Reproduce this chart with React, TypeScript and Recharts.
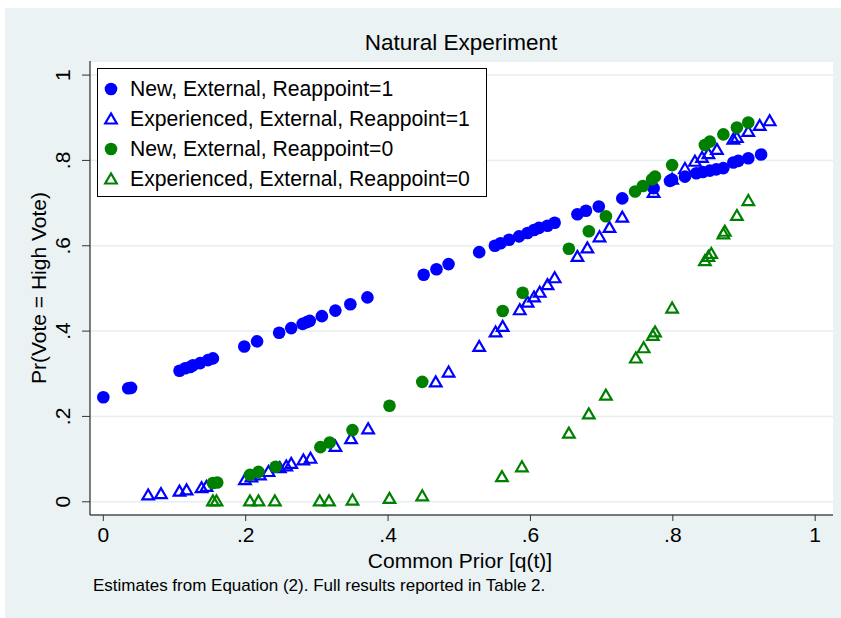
import React from 'react'
import { ScatterChart, Scatter, XAxis, YAxis, CartesianGrid, Legend } from 'recharts'

const FONT = '"Liberation Sans", Arial, Helvetica, sans-serif'
const BLUE = '#0000ff'
const GREEN = '#008000'

const xTicks = [0, 0.2, 0.4, 0.6, 0.8, 1]
const yTicks = [0, 0.2, 0.4, 0.6, 0.8, 1]

// New, External, Reappoint=1
const newReap1X = [0.000, 0.035, 0.039, 0.107, 0.115, 0.122, 0.126, 0.136, 0.147, 0.154, 0.198, 0.216, 0.247, 0.264, 0.280, 0.286, 0.290, 0.307, 0.326, 0.347, 0.371, 0.450, 0.468, 0.485, 0.528, 0.550, 0.558, 0.570, 0.584, 0.596, 0.605, 0.612, 0.624, 0.634, 0.666, 0.678, 0.696, 0.729, 0.773, 0.796, 0.799, 0.817, 0.833, 0.842, 0.852, 0.861, 0.871, 0.885, 0.892, 0.906, 0.924]
const newReap1Y = [0.245, 0.266, 0.267, 0.307, 0.313, 0.316, 0.320, 0.325, 0.332, 0.336, 0.364, 0.376, 0.396, 0.407, 0.417, 0.421, 0.424, 0.435, 0.448, 0.463, 0.479, 0.532, 0.545, 0.557, 0.585, 0.600, 0.606, 0.614, 0.622, 0.630, 0.637, 0.642, 0.647, 0.654, 0.674, 0.682, 0.692, 0.711, 0.735, 0.752, 0.755, 0.762, 0.770, 0.773, 0.776, 0.779, 0.782, 0.795, 0.799, 0.805, 0.814]

// Experienced, External, Reappoint=1
const expReap1X = [0.063, 0.081, 0.107, 0.117, 0.138, 0.145, 0.199, 0.208, 0.220, 0.232, 0.248, 0.257, 0.264, 0.281, 0.291, 0.326, 0.348, 0.372, 0.467, 0.485, 0.528, 0.551, 0.561, 0.585, 0.596, 0.605, 0.613, 0.624, 0.634, 0.666, 0.680, 0.697, 0.711, 0.729, 0.773, 0.799, 0.817, 0.831, 0.841, 0.850, 0.862, 0.885, 0.890, 0.906, 0.922, 0.936]
const expReap1Y = [0.016, 0.019, 0.025, 0.028, 0.033, 0.036, 0.052, 0.058, 0.063, 0.071, 0.080, 0.084, 0.090, 0.098, 0.102, 0.130, 0.148, 0.171, 0.281, 0.304, 0.364, 0.398, 0.411, 0.450, 0.468, 0.480, 0.491, 0.509, 0.525, 0.575, 0.595, 0.621, 0.643, 0.667, 0.725, 0.756, 0.781, 0.798, 0.807, 0.816, 0.826, 0.850, 0.854, 0.868, 0.882, 0.893]

// New, External, Reappoint=0
const newReap0X = [0.154, 0.160, 0.206, 0.218, 0.242, 0.305, 0.318, 0.350, 0.402, 0.448, 0.561, 0.589, 0.654, 0.682, 0.706, 0.747, 0.758, 0.771, 0.775, 0.799, 0.845, 0.852, 0.871, 0.890, 0.906]
const newReap0Y = [0.044, 0.045, 0.063, 0.070, 0.082, 0.128, 0.139, 0.168, 0.225, 0.281, 0.447, 0.490, 0.593, 0.634, 0.669, 0.727, 0.740, 0.756, 0.762, 0.789, 0.836, 0.844, 0.861, 0.877, 0.889]

// Experienced, External, Reappoint=0
const expReap0X = [0.154, 0.159, 0.206, 0.218, 0.241, 0.304, 0.317, 0.350, 0.402, 0.448, 0.560, 0.588, 0.654, 0.682, 0.706, 0.748, 0.759, 0.772, 0.775, 0.799, 0.845, 0.850, 0.854, 0.871, 0.873, 0.890, 0.906]
const expReap0Y = [0.002, 0.002, 0.002, 0.002, 0.002, 0.002, 0.002, 0.004, 0.008, 0.014, 0.059, 0.082, 0.161, 0.206, 0.250, 0.337, 0.361, 0.390, 0.398, 0.454, 0.565, 0.575, 0.582, 0.628, 0.634, 0.671, 0.706]

const zip = (xs: number[], ys: number[]) => xs.map((x, i) => ({ x, y: ys[i] }))

const SERIES = [
  { name: 'New, External, Reappoint=1', data: zip(newReap1X, newReap1Y), color: BLUE, kind: 'circle' },
  { name: 'Experienced, External, Reappoint=1', data: zip(expReap1X, expReap1Y), color: BLUE, kind: 'triangle' },
  { name: 'New, External, Reappoint=0', data: zip(newReap0X, newReap0Y), color: GREEN, kind: 'circle' },
  { name: 'Experienced, External, Reappoint=0', data: zip(expReap0X, expReap0Y), color: GREEN, kind: 'triangle' },
]

const fmt = (v: number) => (v === 0 ? '0' : v === 1 ? '1' : String(v).replace(/^0/, ''))

function Marker({ cx, cy, color, kind }: { cx: number; cy: number; color: string; kind: string }) {
  if (kind === 'circle') return <circle cx={cx} cy={cy} r={6.3} fill={color} />
  return (
    <polygon
      points={`${cx},${cy - 5.5} ${cx - 5.8},${cy + 4.5} ${cx + 5.8},${cy + 4.5}`}
      fill="none"
      stroke={color}
      strokeWidth={2.2}
    />
  )
}

const YTick = ({ x, y, payload }: any) => (
  <text x={x} y={y} transform={`rotate(-90 ${x} ${y})`} textAnchor="middle" fontSize={21} fill="#000" fontFamily={FONT}>
    {fmt(payload.value)}
  </text>
)

const LegendBox = () => (
  <div style={{ width: 390, height: 129, boxSizing: 'border-box', border: '1px solid #000', background: '#fff', paddingTop: 5, fontFamily: FONT, fontSize: 21.2, color: '#000' }}>
    {SERIES.map(s => (
      <div key={s.name} style={{ height: 30, display: 'flex', alignItems: 'center' }}>
        <svg width={26} height={30} style={{ flex: 'none' }}>
          <Marker cx={13} cy={15} color={s.color} kind={s.kind} />
        </svg>
        <span style={{ marginLeft: 6, whiteSpace: 'nowrap', lineHeight: 1 }}>{s.name}</span>
      </div>
    ))}
  </div>
)

const txt: React.CSSProperties = { position: 'absolute', fontFamily: FONT, color: '#000', whiteSpace: 'nowrap', lineHeight: 1 }

export default function App() {
  return (
    <div style={{ position: 'absolute', left: 0, top: 0, width: 841, height: 618, background: '#fff', overflow: 'hidden' }}>
      <div style={{ position: 'absolute', left: 5, top: 8, width: 836, height: 610, background: '#eaf2f3' }} />
      <div style={{ position: 'absolute', left: 0, top: 0 }}>
        <ScatterChart width={841} height={618} margin={{ top: 61, right: 8, bottom: 73, left: 30 }}>
          <CartesianGrid vertical={false} fill="#ffffff" stroke="#e6eef0" strokeWidth={1.5} />
          <XAxis
            type="number"
            dataKey="x"
            domain={[-0.0187, 1.025]}
            allowDataOverflow
            ticks={xTicks}
            tickFormatter={fmt}
            height={30}
            tickSize={6}
            tickMargin={6}
            axisLine={{ stroke: '#000' }}
            tickLine={{ stroke: '#333' }}
            tick={{ fontSize: 21, fill: '#000', fontFamily: FONT }}
          />
          <YAxis
            type="number"
            dataKey="y"
            domain={[-0.031, 1.033]}
            allowDataOverflow
            ticks={yTicks}
            width={60}
            tickSize={8}
            tickMargin={12}
            axisLine={{ stroke: '#000' }}
            tickLine={{ stroke: '#333' }}
            tick={<YTick />}
          />
          <Legend
            layout="horizontal"
            verticalAlign="middle"
            align="center"
            content={<LegendBox />}
            wrapperStyle={{ left: 97, top: 68, width: 390, height: 129 }}
          />
          {SERIES.map(s => (
            <Scatter
              key={s.name}
              name={s.name}
              data={s.data}
              fill={s.color}
              isAnimationActive={false}
              shape={(p: any) => <Marker cx={p.cx} cy={p.cy} color={s.color} kind={s.kind} />}
            />
          ))}
        </ScatterChart>
      </div>
      <div style={{ ...txt, left: 461, top: 43, fontSize: 22.5, transform: 'translate(-50%, -50%)' }}>Natural Experiment</div>
      <div style={{ ...txt, left: 460, top: 560, fontSize: 21, transform: 'translate(-50%, -50%)' }}>Common Prior [q(t)]</div>
      <div style={{ ...txt, left: 38, top: 288, fontSize: 21, transform: 'translate(-50%, -50%) rotate(-90deg)' }}>Pr(Vote = High Vote)</div>
      <div style={{ ...txt, left: 93, top: 585, fontSize: 17, transform: 'translateY(-50%)' }}>
        Estimates from Equation (2). Full results reported in Table 2.
      </div>
    </div>
  )
}
